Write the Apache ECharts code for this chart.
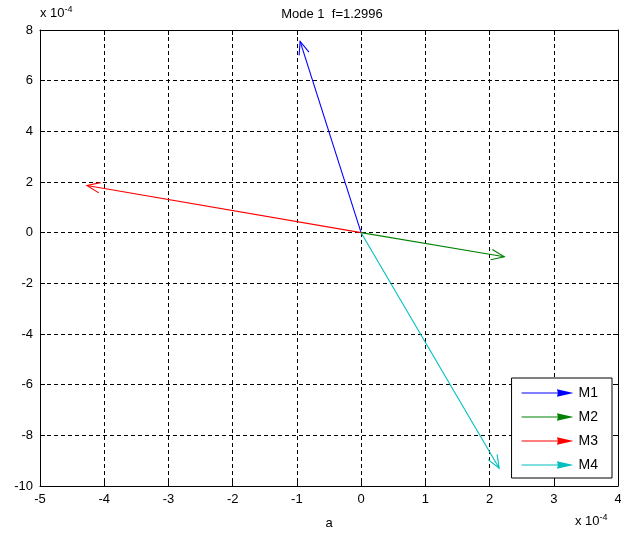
<!DOCTYPE html>
<html><head><meta charset="utf-8">
<script src="https://cdn.jsdelivr.net/npm/echarts@6/dist/echarts.min.js"></script>
<style>html,body{margin:0;padding:0;background:#fff}#c{width:621px;height:542px}</style>
</head><body><div id="c"></div>
<script>
const seriesNames = ['M1', 'M2', 'M3', 'M4'];
const seriesColors = ['#0000ff', '#008000', '#ff0000', '#00bfbf'];
// arrow tips, in units of 1e-4
const tipX = [-0.95, 2.23, -4.27, 2.15];
const tipY = [7.55, -0.95, 1.86, -9.3];
const xTicks = [-5, 4, 1];
const yTicks = [-10, 8, 2];

const font = 'Liberation Sans, Arial, Helvetica, sans-serif';
const chart = echarts.init(document.getElementById('c'));

function renderArrow(params, api) {
  const o = api.coord([0, 0]);
  const t = api.coord([api.value(0), api.value(1)]);
  const ang = Math.atan2(t[1] - o[1], t[0] - o[0]);
  const L = 14, a = 0.38;
  const h1 = [t[0] - L * Math.cos(ang - a), t[1] - L * Math.sin(ang - a)];
  const h2 = [t[0] - L * Math.cos(ang + a), t[1] - L * Math.sin(ang + a)];
  const st = { stroke: api.visual('color'), lineWidth: 1.1, fill: null };
  return {
    type: 'group',
    children: [
      { type: 'line', shape: { x1: o[0], y1: o[1], x2: t[0], y2: t[1] }, style: st },
      { type: 'polyline', shape: { points: [h1, t, h2] }, style: st }
    ]
  };
}

const arrowIcon = 'path://M0,4.5 L42,4.5 L42,5.5 L0,5.5 Z M34,1.5 L50,5 L34,8.5 L35,5 Z';

const series = seriesNames.map((n, i) => ({
  name: n,
  type: 'custom',
  coordinateSystem: 'cartesian2d',
  itemStyle: { color: seriesColors[i] },
  renderItem: renderArrow,
  encode: { x: 0, y: 1 },
  data: [[tipX[i], tipY[i]]],
  clip: false,
  z: 5
}));

const axisCommon = {
  type: 'value',
  axisLine: { show: true, onZero: false, lineStyle: { color: '#000', width: 1 } },
  axisTick: { show: true, inside: true, length: 5, lineStyle: { color: '#000' } },
  axisLabel: { color: '#000', fontFamily: font, fontSize: 13 }
};

chart.setOption({
  animation: false,
  backgroundColor: '#fff',
  title: {
    text: 'Mode 1  f=1.2996', left: 327, top: 3, textAlign: 'center',
    textStyle: { fontFamily: font, fontSize: 13, fontWeight: 'normal', color: '#000' }
  },
  grid: { left: 40, right: 3, top: 30, bottom: 56, containLabel: false, outerBoundsMode: 'none' },
  legend: {
    orient: 'vertical', right: 9, bottom: 64,
    data: seriesNames.map((n, i) => ({ name: n, icon: arrowIcon, itemStyle: { color: seriesColors[i] } })),
    itemWidth: 52, itemHeight: 10, itemGap: 10,
    padding: [8, 14, 6, 10],
    backgroundColor: '#fff', borderColor: '#000', borderWidth: 1, borderRadius: 0,
    textStyle: { fontFamily: font, fontSize: 14, color: '#000' }
  },
  xAxis: [
    Object.assign({}, axisCommon, {
      min: xTicks[0], max: xTicks[1], interval: xTicks[2], position: 'bottom',
      name: 'a', nameLocation: 'middle', nameGap: 31,
      nameTextStyle: { fontFamily: font, fontSize: 13, color: '#000' },
      axisLabel: Object.assign({}, axisCommon.axisLabel, { margin: 7 }),
      splitLine: { show: true, lineStyle: { color: '#000', type: [4, 3], width: 1 } }
    }),
    Object.assign({}, axisCommon, {
      min: xTicks[0], max: xTicks[1], interval: xTicks[2], position: 'top',
      axisLabel: { show: false }, splitLine: { show: false }
    })
  ],
  yAxis: [
    Object.assign({}, axisCommon, {
      min: yTicks[0], max: yTicks[1], interval: yTicks[2], position: 'left',
      axisLabel: Object.assign({}, axisCommon.axisLabel, { margin: 7 }),
      splitLine: { show: true, lineStyle: { color: '#000', type: [4, 3], width: 1 } }
    }),
    Object.assign({}, axisCommon, {
      min: yTicks[0], max: yTicks[1], interval: yTicks[2], position: 'right',
      axisLabel: { show: false }, splitLine: { show: false }
    })
  ],
  graphic: [
    {
      type: 'text', left: 40, top: 5,
      style: {
        text: 'x 10{s|-4}', fontFamily: font, fontSize: 13, fill: '#000',
        rich: { s: { fontSize: 9, verticalAlign: 'top', padding: [0, 0, 8, 0], fontFamily: font } }
      }
    },
    {
      type: 'text', left: 575, top: 513,
      style: {
        text: 'x 10{s|-4}', fontFamily: font, fontSize: 13, fill: '#000',
        rich: { s: { fontSize: 9, verticalAlign: 'top', padding: [0, 0, 8, 0], fontFamily: font } }
      }
    }
  ],
  series: series
});
</script></body></html>
